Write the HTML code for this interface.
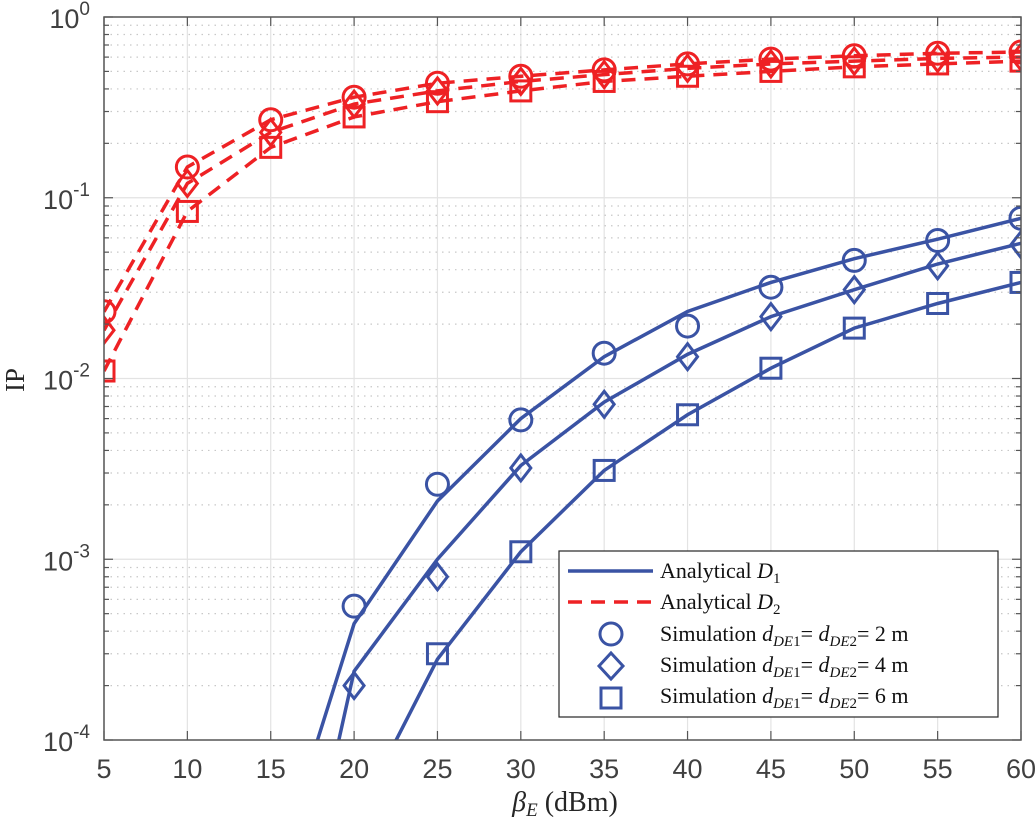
<!DOCTYPE html>
<html><head><meta charset="utf-8"><style>
html,body{margin:0;background:#fff;overflow:hidden;width:1036px;height:823px;}
svg{display:block;overflow:hidden;}
.sans{font-family:"Liberation Sans",sans-serif;}
.serif{font-family:"Liberation Serif",serif;}
</style></head><body>
<svg id="chart" width="1036" height="823" xmlns="http://www.w3.org/2000/svg">
<defs><clipPath id="clip"><rect x="104" y="17" width="917" height="723"/></clipPath></defs>
<g id="grid"></g>
<g id="series" clip-path="url(#clip)"></g>
<g id="axes"></g>
<text class="serif" transform="translate(24,380) rotate(-90)" text-anchor="middle" font-size="27" fill="#262626">IP</text>
<text class="serif" x="565" y="811" text-anchor="middle" font-size="28" fill="#262626"><tspan font-style="italic">β</tspan><tspan font-style="italic" font-size="19" dy="5">E</tspan><tspan dy="-5"> (dBm)</tspan></text>
<g>
<rect x="559" y="551" width="439" height="166" fill="#fff" stroke="#262626" stroke-width="1.2"/>
<line x1="568" y1="571" x2="653" y2="571" stroke="#3a53a4" stroke-width="3.5"/>
<text class="serif" font-size="22" fill="#111" x="660" y="578">Analytical <tspan font-style="italic">D</tspan><tspan font-size="15" dy="5">1</tspan></text>
<line x1="568" y1="602" x2="653" y2="602" stroke="#ee2124" stroke-width="3.5" stroke-dasharray="14,9"/>
<text class="serif" font-size="22" fill="#111" x="660" y="609">Analytical <tspan font-style="italic">D</tspan><tspan font-size="15" dy="5">2</tspan></text>
<circle cx="611" cy="634" r="11" fill="none" stroke="#3a53a4" stroke-width="3"/>
<text class="serif" font-size="22" fill="#111" x="660" y="641">Simulation <tspan font-style="italic">d</tspan><tspan font-size="15" font-style="italic" dy="5">DE</tspan><tspan font-size="15">1</tspan><tspan dy="-5">= </tspan><tspan font-style="italic">d</tspan><tspan font-size="15" font-style="italic" dy="5">DE</tspan><tspan font-size="15">2</tspan><tspan dy="-5">= 2 m</tspan></text>
<path d="M611,653 L623,666 L611,679 L599,666Z" fill="none" stroke="#3a53a4" stroke-width="3"/>
<text class="serif" font-size="22" fill="#111" x="660" y="672">Simulation <tspan font-style="italic">d</tspan><tspan font-size="15" font-style="italic" dy="5">DE</tspan><tspan font-size="15">1</tspan><tspan dy="-5">= </tspan><tspan font-style="italic">d</tspan><tspan font-size="15" font-style="italic" dy="5">DE</tspan><tspan font-size="15">2</tspan><tspan dy="-5">= 4 m</tspan></text>
<rect x="601" y="688" width="20" height="20" fill="none" stroke="#3a53a4" stroke-width="3"/>
<text class="serif" font-size="22" fill="#111" x="660" y="703">Simulation <tspan font-style="italic">d</tspan><tspan font-size="15" font-style="italic" dy="5">DE</tspan><tspan font-size="15">1</tspan><tspan dy="-5">= </tspan><tspan font-style="italic">d</tspan><tspan font-size="15" font-style="italic" dy="5">DE</tspan><tspan font-size="15">2</tspan><tspan dy="-5">= 6 m</tspan></text>
</g>
</svg>
<script>
const xVals=[5,10,15,20,25,30,35,40,45,50,55,60];
const xTicks=[5,10,15,20,25,30,35,40,45,50,55,60];
const yDecades=[-4,-3,-2,-1,0];
const d1Line2m=[1e-7,1e-6,1.5e-5,4.4e-4,2.1e-3,6.0e-3,0.0132,0.0235,0.034,0.046,0.059,0.077];
const d1Line4m=[1e-8,1e-7,2e-6,2.4e-4,1.0e-3,3.3e-3,7.4e-3,0.0136,0.022,0.031,0.043,0.056];
const d1Line6m=[1e-9,1e-8,1e-7,3.5e-5,2.8e-4,1.1e-3,3.1e-3,6.3e-3,0.0114,0.019,0.026,0.034];
const d1Sim2m=[null,null,null,5.5e-4,2.6e-3,5.9e-3,0.0138,0.0195,0.032,0.045,0.058,0.077];
const d1Sim4m=[null,null,null,2.0e-4,8.0e-4,3.2e-3,7.2e-3,0.0132,0.022,0.031,0.042,0.055];
const d1Sim6m=[null,null,null,null,3.0e-4,1.1e-3,3.1e-3,6.3e-3,0.0114,0.019,0.026,0.034];
const d2Sim2m=[0.0234,0.148,0.27,0.36,0.43,0.47,0.51,0.55,0.585,0.61,0.63,0.64];
const d2Sim4m=[0.0185,0.12,0.23,0.33,0.39,0.44,0.48,0.52,0.55,0.57,0.59,0.60];
const d2Sim6m=[0.011,0.084,0.19,0.28,0.34,0.39,0.44,0.47,0.50,0.53,0.55,0.57];
const X0=104,X1=1021,Y0=740,Y1=17;
const xs=v=>X0+(v-5)/55*(X1-X0);
const ys=v=>Y0-(Math.log10(v)+4)/4*(Y0-Y1);
const NS="http://www.w3.org/2000/svg";
function mk(tag,attrs,parent){const e=document.createElementNS(NS,tag);for(const k in attrs)e.setAttribute(k,attrs[k]);parent.appendChild(e);return e;}
const grid=document.getElementById('grid'),axes=document.getElementById('axes'),ser=document.getElementById('series');
xTicks.forEach(t=>{const x=xs(t);
 const g=mk('line',{x1:x,x2:x,y1:Y1,y2:Y0,stroke:'#e3e3e3','stroke-width':1.2},grid);
 
 
 mk('line',{x1:x,x2:x,y1:Y0,y2:Y0-9,stroke:'#555','stroke-width':1.2},axes);
 mk('line',{x1:x,x2:x,y1:Y1,y2:Y1+9,stroke:'#555','stroke-width':1.2},axes);
 const tx=mk('text',{class:'sans',x:x,y:Y0+38,'text-anchor':'middle','font-size':27,fill:'#404040'},axes);tx.textContent=t;
 
 
});
yDecades.forEach(d=>{const y=ys(Math.pow(10,d));
 if(d>-4&&d<0){const g=mk('line',{x1:X0,x2:X1,y1:y,y2:y,stroke:'#e3e3e3','stroke-width':1.2},grid);
 
 }
 mk('line',{x1:X0,x2:X0+9,y1:y,y2:y,stroke:'#555','stroke-width':1.2},axes);
 mk('line',{x1:X1,x2:X1-9,y1:y,y2:y,stroke:'#555','stroke-width':1.2},axes);
 const tx=mk('text',{class:'sans',x:X0-14,y:y+11,'text-anchor':'end','font-size':27,fill:'#404040'},axes);
 tx.innerHTML='10<tspan font-size="19" dy="-13">'+d+'</tspan>';
 
 
 if(d<0)for(let m=2;m<=9;m++){const yy=ys(m*Math.pow(10,d));
  const g=mk('line',{x1:X0,x2:X1,y1:yy,y2:yy,stroke:'#c8c8c8','stroke-width':1.2,'stroke-dasharray':'1.5,5'},grid);
  
  
  mk('line',{x1:X0,x2:X0+5,y1:yy,y2:yy,stroke:'#555','stroke-width':1.2},axes);
  mk('line',{x1:X1,x2:X1-5,y1:yy,y2:yy,stroke:'#555','stroke-width':1.2},axes);}
});
mk('rect',{x:X0,y:Y1,width:X1-X0,height:Y0-Y1,fill:'none',stroke:'#555','stroke-width':1.5},axes);
function line(arr,color,dash,name){const pts=xVals.map((x,i)=>xs(x)+','+ys(arr[i])).join(' ');
 const p=mk('polyline',{points:pts,fill:'none',stroke:color,'stroke-width':3.5,'stroke-dasharray':dash||'none'},ser);
 
 }
function markers(arr,color,shape,name){xVals.forEach((x,i)=>{const v=arr[i];if(v==null)return;const cx=xs(x),cy=ys(v);let e;
 if(shape==='c')e=mk('circle',{cx:cx,cy:cy,r:11,fill:'none',stroke:color,'stroke-width':3},ser);
 else if(shape==='d')e=mk('path',{d:`M${cx},${cy-13}L${cx+10},${cy}L${cx},${cy+13}L${cx-10},${cy}Z`,fill:'none',stroke:color,'stroke-width':3},ser);
 else e=mk('rect',{x:cx-10,y:cy-10,width:20,height:20,fill:'none',stroke:color,'stroke-width':3},ser);
 
 });}
const B='#3a53a4',R='#ee2124';
line(d1Line2m,B,null,'d1-analytical-2m');line(d1Line4m,B,null,'d1-analytical-4m');line(d1Line6m,B,null,'d1-analytical-6m');
line(d2Sim2m,R,'14,9','d2-analytical-2m');line(d2Sim4m,R,'14,9','d2-analytical-4m');line(d2Sim6m,R,'14,9','d2-analytical-6m');
markers(d1Sim2m,B,'c','d1-sim-2m-marker');markers(d1Sim4m,B,'d','d1-sim-4m-marker');markers(d1Sim6m,B,'s','d1-sim-6m-marker');
markers(d2Sim2m,R,'c','d2-sim-2m-marker');markers(d2Sim4m,R,'d','d2-sim-4m-marker');markers(d2Sim6m,R,'s','d2-sim-6m-marker');
</script>
</body></html>
